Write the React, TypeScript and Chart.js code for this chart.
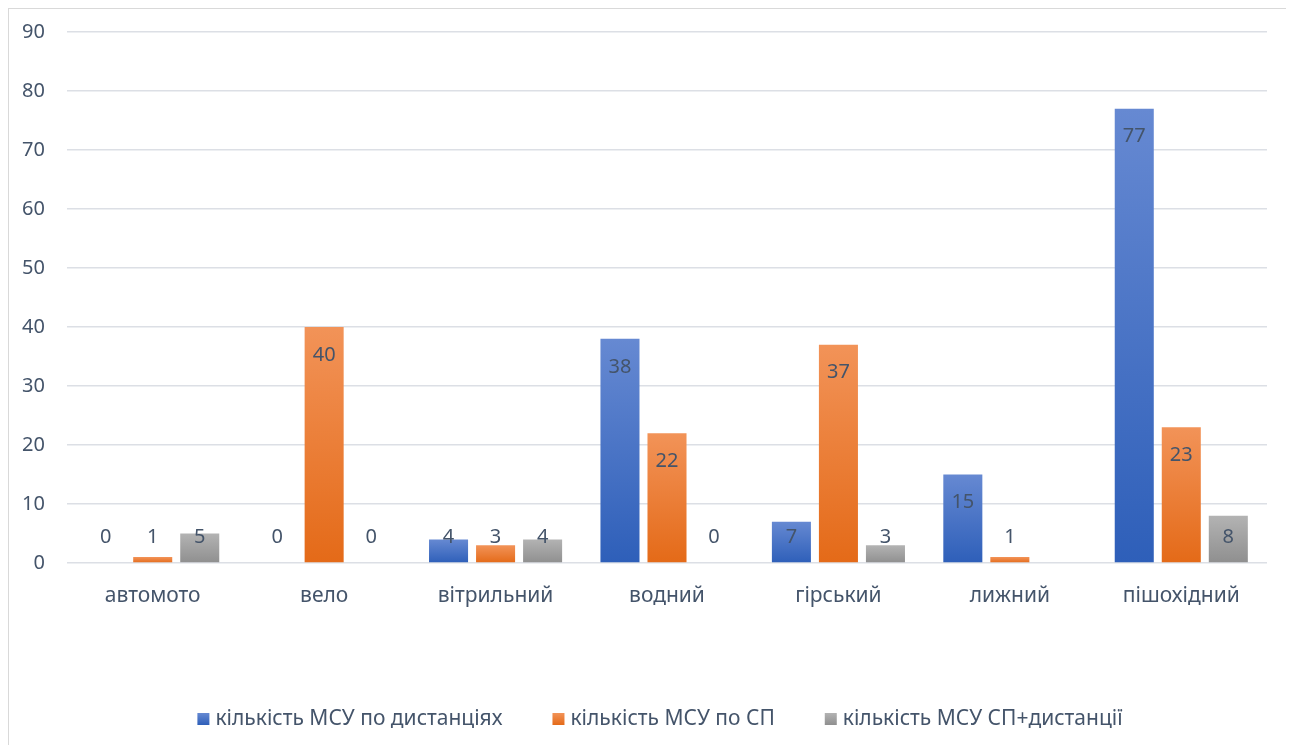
import React, { useEffect, useRef } from "react";
import { Chart, registerables } from "chart.js";

Chart.register(...registerables);

const categories = ["автомото", "вело", "вітрильний", "водний", "гірський", "лижний", "пішохідний"];
const seriesNames = ["кількість МСУ по дистанціях", "кількість МСУ по СП", "кількість МСУ СП+дистанції"];
const distances = [0, 0, 4, 38, 7, 15, 77];
const sp = [1, 40, 3, 22, 37, 1, 23];
const spPlusDist = [5, 0, 4, 0, 3, null, 8];
const yTicks = { min: 0, max: 90, step: 10 };

const gradients = [
  ["#6689d2", "#2e5fb9"],
  ["#f29358", "#e46a18"],
  ["#b3b3b3", "#8f8f8f"],
];
const solids = ["#4472c4", "#ed7d31", "#a5a5a5"];

const FONT = "'Noto Sans', 'Open Sans', sans-serif";
const TEXT = "#44546a";

function barFill(dsIndex: number) {
  return (ctx: any) => {
    const chart = ctx.chart;
    const y = chart.scales && chart.scales.y;
    if (!y || ctx.type !== "data" || ctx.raw == null) return solids[dsIndex];
    const top = y.getPixelForValue(ctx.raw);
    const bottom = y.getPixelForValue(0);
    if (!isFinite(top) || !isFinite(bottom) || bottom - top < 1) return solids[dsIndex];
    const g = chart.ctx.createLinearGradient(0, top, 0, bottom);
    g.addColorStop(0, gradients[dsIndex][0]);
    g.addColorStop(1, gradients[dsIndex][1]);
    return g;
  };
}

const dataLabels = {
  id: "dataLabels",
  afterDatasetsDraw(chart: any) {
    const ctx = chart.ctx;
    const yScale = chart.scales.y;
    const base = yScale.getPixelForValue(0);
    ctx.save();
    ctx.font = `20px ${FONT}`;
    ctx.fillStyle = TEXT;
    ctx.textAlign = "center";
    ctx.textBaseline = "middle";
    chart.data.datasets.forEach((ds: any, di: number) => {
      const meta = chart.getDatasetMeta(di);
      meta.data.forEach((bar: any, i: number) => {
        const v = ds.data[i];
        if (v == null) return;
        const y = Math.min(bar.y + 28, base - 26);
        ctx.fillText(String(v), bar.x, y);
      });
    });
    ctx.restore();
  },
};

// Legend drawn at the bottom, centred, using dataset labels and colours
const bottomLegend = {
  id: "bottomLegend",
  afterDraw(chart: any) {
    const ctx = chart.ctx;
    const box = 12;
    const gapText = 6;
    const gapItem = 50;
    ctx.save();
    ctx.font = `21px ${FONT}`;
    const items = chart.data.datasets.map((ds: any, i: number) => ({
      text: ds.label,
      idx: i,
      w: ctx.measureText(ds.label).width,
    }));
    const total =
      items.reduce((s: number, it: any) => s + box + gapText + it.w, 0) + gapItem * (items.length - 1);
    const area = chart.chartArea;
    let x = (area.left + area.right) / 2 - 7 - total / 2;
    const y = chart.height - 26;
    ctx.textBaseline = "middle";
    ctx.textAlign = "left";
    items.forEach((it: any) => {
      const g = ctx.createLinearGradient(0, y - box / 2, 0, y + box / 2);
      g.addColorStop(0, gradients[it.idx][0]);
      g.addColorStop(1, gradients[it.idx][1]);
      ctx.fillStyle = g;
      ctx.fillRect(x, y - box / 2, box, box);
      x += box + gapText;
      ctx.fillStyle = TEXT;
      ctx.fillText(it.text, x, y);
      x += it.w + gapItem;
    });
    ctx.restore();
  },
};

export default function App() {
  const ref = useRef<HTMLCanvasElement>(null);
  useEffect(() => {
    if (!ref.current) return;
    const chart = new Chart(ref.current, {
      type: "bar",
      data: {
        labels: categories,
        datasets: [distances, sp, spPlusDist].map((d, i) => ({
          label: seriesNames[i],
          data: d,
          backgroundColor: barFill(i),
          borderWidth: 0,
          categoryPercentage: 0.823,
          barPercentage: 0.83,
        })),
      },
      options: {
        animation: false,
        responsive: true,
        maintainAspectRatio: false,
        layout: { padding: { left: 11, right: 27, top: 23, bottom: 0 } },
        plugins: {
          tooltip: { enabled: false },
          legend: { display: false },
        },
        scales: {
          x: {
            grid: { display: false },
            border: { display: false },
            ticks: { font: { family: FONT, size: 21 }, color: TEXT, padding: 12 },
            afterFit: (scale: any) => {
              scale.height = 182;
            },
          },
          y: {
            min: yTicks.min,
            max: yTicks.max,
            ticks: { stepSize: yTicks.step, font: { family: FONT, size: 20 }, color: TEXT, padding: 22 },
            grid: { color: "#dcdfe5", lineWidth: 1.5, drawTicks: false },
            border: { display: false },
            afterFit: (scale: any) => {
              scale.width = 47;
              scale.paddingTop = 0;
              scale.paddingBottom = 0;
            },
          },
        },
      },
      plugins: [dataLabels, bottomLegend],
    } as any);
    return () => chart.destroy();
  }, []);
  return (
    <div
      style={{
        width: 1285,
        height: 736,
        borderTop: "1px solid #d9d9d9",
        borderLeft: "1px solid #d9d9d9",
        position: "relative",
        background: "#fff",
      }}
    >
      <canvas ref={ref} />
    </div>
  );
}
